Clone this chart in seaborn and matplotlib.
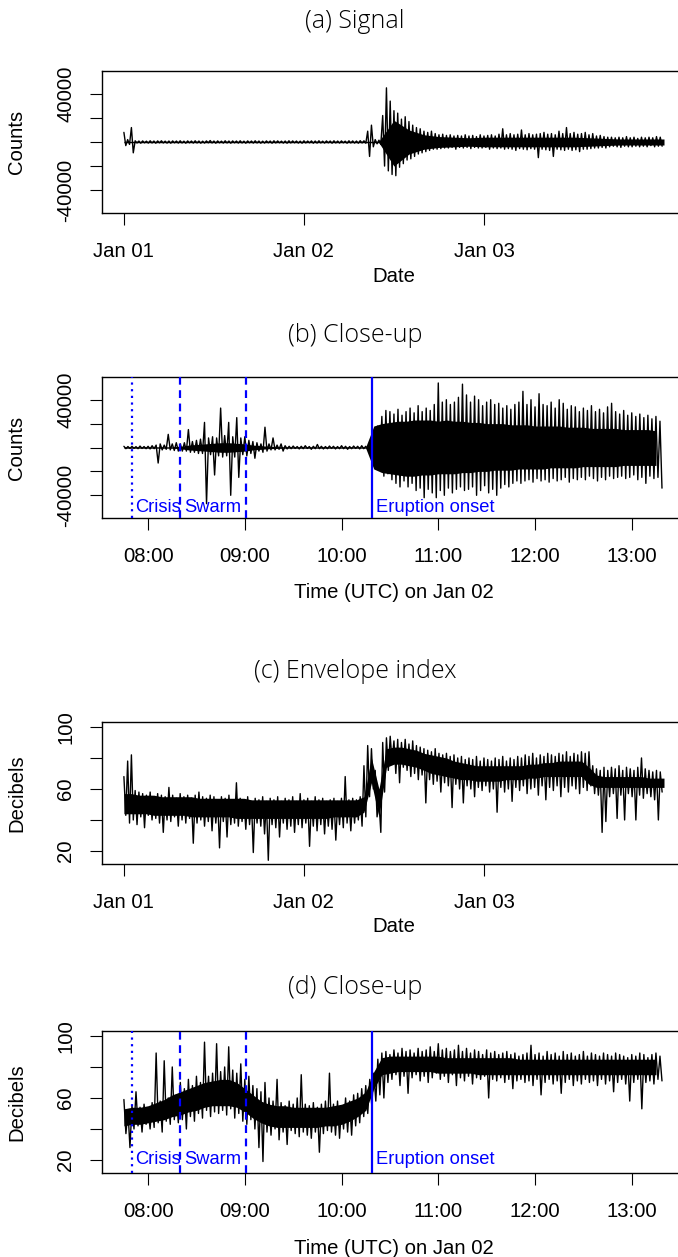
from __future__ import annotations

import matplotlib

matplotlib.use("Agg")
import matplotlib.dates as mdates
import matplotlib.pyplot as plt
import numpy as np
import pandas as pd
import seaborn as sns


# Full record starts Jan 01 00:00, close-ups start Jan 02 07:45
FULL_START = "2000-01-01 00:00"
FULL_STEP = "30min"
CLOSE_START = "2000-01-02 07:45"
CLOSE_STEP = "150s"
CLOSE_CORE_STEP = "5min"

# (a) signal, thousands of counts: upper / lower swing per 30 min
A_HI_K = [
    8, 2, 12,
    1, 0.8, 0.9, 0.7, 1, 0.8, 0.9, 1, 0.7, 0.8,
    0.9, 0.8, 1, 0.7, 0.9, 0.8, 1, 0.8, 0.7, 0.9,
    1.2, 0.8, 0.9, 0.7, 1, 0.8, 0.9, 0.8, 1, 0.7,
    0.9, 0.8, 1, 0.8, 0.7, 0.9, 0.8, 1, 0.9, 0.7,
    0.8, 1, 0.9, 0.8, 0.7, 1, 0.8, 0.9, 0.8, 1,
    0.7, 0.9, 0.8, 1, 0.8, 0.9, 0.7, 1, 0.9, 0.8, 1.1,
    1, 9, 14, 2, 1.5, 22, 45, 34, 26, 24,
    19, 21, 17, 14, 12, 11, 9, 8, 9, 7,
    6, 6.5, 5.5, 6, 5, 5.5, 5, 6, 5, 5.5,
    4.5, 6, 5, 5.5, 6, 5, 6.5, 11, 6, 7,
    6, 6.5, 10, 6, 7, 6, 6.5, 7, 8, 6.5,
    7, 6, 9, 7, 12, 7, 8, 6.5, 7, 8,
    6, 7, 5, 5.5, 4.5, 4, 4, 3.5, 4, 3.5,
    4.5, 3.5, 4, 3, 4, 3.5, 4, 3.5, 4.5, 4,
]
A_LO_K = [
    -3, -2, -9,
    -0.8, -1, -0.7, -0.9, -0.8, -1, -0.7, -0.8, -0.9, -1,
    -0.7, -0.9, -0.8, -1, -0.7, -0.9, -0.8, -1, -0.9, -0.7,
    -0.8, -1, -0.7, -0.9, -0.8, -1, -0.7, -0.9, -0.8, -1,
    -0.7, -0.9, -0.8, -1, -0.9, -0.7, -1, -0.8, -0.7, -0.9,
    -1, -0.8, -0.7, -0.9, -1, -0.8, -0.7, -1, -0.9, -0.8,
    -0.9, -0.7, -1, -0.8, -0.9, -0.7, -1, -0.8, -0.9, -1, -0.8,
    -1, -12, -4, -1.5, -2, -20, -24, -27, -28, -21,
    -18, -15, -14, -12, -10, -9, -8, -7, -6, -6,
    -5.5, -5, -5, -4.5, -6, -4.5, -5, -4.5, -5.5, -4.5,
    -5, -5, -4.5, -6, -5, -5.5, -5, -6, -5.5, -6,
    -7, -5.5, -6, -6.5, -5.5, -6, -13, -6, -6.5, -7,
    -12, -6, -6.5, -7, -6, -7, -6.5, -8, -6, -6,
    -5.5, -5, -5, -4.5, -5, -4, -3.5, -4, -4.5, -3.5,
    -4, -4, -3.5, -4, -3.5, -4, -3, -4, -3.5, -3.5,
]
# dense core of (a) every 2 h, thousands of counts
A_CORE_HI_K = [
    0.6, 0.6, 0.6, 0.6, 0.6, 0.6, 0.6, 0.6, 0.6, 0.6,
    0.6, 0.6, 0.6, 0.6, 0.6, 0.6, 0.6, 0.6, 18, 10,
    6, 4.5, 4, 3.5, 4, 4, 4, 4, 4, 4,
    4, 3.5, 3, 2.5, 2.5, 2.5, 2.5,
]
A_CORE_LO_K = [
    -0.6, -0.6, -0.6, -0.6, -0.6, -0.6, -0.6, -0.6, -0.6, -0.6,
    -0.6, -0.6, -0.6, -0.6, -0.6, -0.6, -0.6, -0.6, -20, -10,
    -6, -4.5, -4, -3.5, -4, -4, -4, -4, -4, -4,
    -4, -3.5, -3, -2.5, -2.5, -2.5, -2.5,
]

# (b) close-up of the signal, thousands of counts per 2.5 min
B_HI_K = [
    1, 0.8, 1, 0.7, 1.2, 0.8, 1, 1.5, 2, 3,
    2, 11, 3, 4, 3, 4, 15, 5, 6, 7,
    21, 8, 9, 8, 33, 10, 21, 9, 25, 8,
    9, 6, 5, 4, 3, 17, 3, 8, 2, 3,
    1.5, 1, 1.2, 0.8, 1, 1.5, 0.8, 1, 2.5, 1,
    0.8, 1.2, 1, 0.8, 1.5, 1, 0.8, 1.2, 1, 1.5,
    1, 2, 4, 18, 26, 31, 30, 28, 32, 27,
    30, 33, 29, 35, 30, 33, 31, 36, 54, 38,
    40, 36, 38, 42, 53, 44, 38, 43, 40, 35,
    38, 40, 36, 37, 33, 35, 32, 36, 38, 47,
    36, 40, 34, 45, 36, 35, 38, 33, 40, 37,
    32, 35, 34, 30, 33, 31, 35, 30, 32, 29,
    34, 37, 30, 28, 31, 27, 29, 26, 28, 25,
    27, 24, 26, 22,
]
B_LO_K = [
    -1, -0.8, -0.7, -1, -0.8, -1, -1.2, -1, -13, -2,
    -1.5, -2, -2.5, -3, -3, -3, -4, -4, -5, -5,
    -47, -6, -23, -7, -8, -7, -40, -8, -25, -6,
    -7, -5, -9, -3, -4, -3, -2, -2, -1.5, -3,
    -1.2, -1, -0.8, -1.2, -1, -0.8, -1.5, -1, -1, -1.2,
    -1, -0.8, -1.2, -1, -1, -1.5, -1, -0.8, -1.2, -1,
    -1.5, -2, -4, -14, -24, -22, -27, -30, -33, -28,
    -33, -30, -36, -34, -42, -35, -38, -42, -36, -40,
    -34, -38, -35, -33, -36, -35, -33, -40, -36, -32,
    -38, -35, -40, -34, -31, -33, -30, -28, -30, -28,
    -27, -29, -26, -28, -27, -29, -26, -28, -27, -25,
    -29, -26, -27, -25, -27, -24, -26, -28, -25, -27,
    -24, -26, -25, -24, -26, -25, -23, -27, -25, -30,
    -24, -26, -25, -34,
]
# dense core of (b) every 5 min, thousands of counts
B_CORE_HI_K = [
    0.6, 0.6, 0.6, 0.6, 0.6, 0.6, 0.6,
    1, 2, 2.5, 3, 3.5, 4, 4, 3.5, 3, 2, 1.5, 1, 0.8,
    0.6, 0.6, 0.6, 0.6, 0.6, 0.6, 0.6, 0.6, 0.6, 0.6, 0.6,
    18, 20, 21, 22, 22, 23, 23, 23, 22, 23, 22, 22, 21, 21, 20, 20, 20, 19,
    19, 19, 18, 18, 18, 18, 17, 17, 17, 16, 16, 16, 16, 15, 15, 15, 15, 14,
]
B_CORE_LO_K = [
    -0.6, -0.6, -0.6, -0.6, -0.6, -0.6, -0.6,
    -1, -2, -2.5, -3, -3.5, -4, -4, -3.5, -3, -2, -1.5, -1, -0.8,
    -0.6, -0.6, -0.6, -0.6, -0.6, -0.6, -0.6, -0.6, -0.6, -0.6, -0.6,
    -18, -21, -22, -23, -24, -24, -23, -23, -22, -22, -22, -21, -21, -20, -20, -19, -19, -19,
    -18, -18, -18, -18, -17, -17, -17, -17, -16, -16, -16, -16, -16, -15, -15, -15, -15, -15,
]

# (c) envelope index, dB per 30 min
C_HI = [
    68, 78, 82, 59, 58, 57, 56, 58, 55, 57,
    56, 55, 61, 56, 54, 57, 55, 56, 54, 56,
    58, 55, 54, 56, 55, 53, 55, 54, 56, 53,
    64, 54, 53, 55, 52, 54, 53, 55, 52, 54,
    53, 55, 52, 54, 53, 55, 52, 57, 53, 54,
    52, 55, 53, 54, 52, 53, 54, 52, 54, 68,
    53, 54, 53, 55, 75, 88, 86, 72, 52, 90,
    93, 94, 91, 92, 90, 92, 89, 91, 88, 87,
    86, 85, 84, 86, 83, 82, 83, 81, 82, 80,
    81, 79, 80, 79, 81, 78, 80, 79, 78, 80,
    79, 81, 78, 80, 79, 81, 80, 82, 81, 83,
    80, 82, 81, 83, 82, 81, 83, 82, 84, 81,
    83, 82, 84, 83, 84, 75, 73, 72, 74, 72,
    74, 73, 75, 72, 74, 73, 72, 74, 80, 73,
    72, 71, 72, 71,
]
C_LO = [
    43, 38, 40, 37, 42, 35, 43, 40, 41, 38,
    32, 40, 39, 42, 36, 40, 38, 41, 25, 38,
    40, 36, 39, 33, 38, 22, 39, 29, 37, 38,
    36, 39, 34, 37, 19, 38, 36, 31, 14, 37,
    35, 29, 38, 34, 36, 32, 37, 35, 38, 23,
    36, 33, 37, 31, 36, 34, 27, 37, 35, 38,
    33, 38, 40, 36, 42, 55, 60, 42, 32, 58,
    72, 78, 70, 64, 74, 72, 68, 70, 66, 69,
    51, 66, 63, 65, 58, 64, 62, 48, 63, 60,
    51, 62, 60, 55, 61, 59, 62, 58, 60, 45,
    61, 58, 60, 52, 61, 59, 62, 57, 60, 61,
    56, 62, 53, 61, 59, 62, 55, 61, 58, 62,
    60, 57, 61, 59, 62, 57, 56, 32, 39, 55,
    57, 41, 56, 40, 57, 55, 40, 56, 54, 57,
    55, 53, 40, 58,
]
# dense core of (c) every hour, dB
C_CORE_HI = [
    57, 57, 56, 56, 56, 55, 55, 55, 55, 55,
    54, 54, 54, 54, 54, 54, 54, 53, 53, 53,
    53, 53, 53, 53, 53, 53, 53, 53, 53, 53,
    53, 53, 55, 80, 60, 86, 87, 87, 86, 85,
    83, 82, 81, 80, 78, 77, 76, 75, 75, 75,
    75, 75, 75, 75, 76, 76, 77, 77, 78, 78,
    78, 78, 74, 69, 68, 68, 68, 68, 68, 68,
    67, 67, 67,
]
C_CORE_LO = [
    44, 44, 44, 44, 43, 43, 43, 43, 43, 42,
    42, 42, 42, 42, 42, 41, 41, 41, 41, 41,
    41, 41, 41, 41, 41, 41, 41, 41, 42, 42,
    42, 42, 45, 64, 42, 74, 76, 76, 75, 74,
    72, 70, 69, 68, 67, 66, 66, 65, 65, 65,
    65, 66, 66, 66, 67, 67, 68, 68, 68, 68,
    68, 68, 63, 61, 61, 61, 61, 61, 61, 61,
    61, 61, 61,
]

# (d) close-up of the envelope index, dB per 2.5 min
D_HI = [
    59, 52, 55, 64, 54, 56, 53, 57, 89, 58,
    84, 60, 80, 62, 70, 66, 72, 68, 74, 70,
    96, 74, 76, 95, 77, 80, 93, 78, 76, 82,
    72, 74, 68, 66, 64, 70, 60, 58, 72, 57,
    55, 58, 56, 60, 75, 56, 55, 57, 54, 56,
    58, 76, 56, 58, 55, 60, 58, 62, 63, 66,
    68, 72, 76, 85, 89, 90, 88, 91, 89, 92,
    90, 91, 89, 92, 90, 91, 93, 90, 95, 91,
    92, 90, 91, 94, 90, 92, 89, 91, 90, 88,
    91, 89, 90, 88, 89, 90, 88, 89, 87, 88,
    89, 94, 88, 89, 87, 90, 88, 89, 87, 90,
    88, 89, 87, 88, 90, 87, 89, 88, 87, 89,
    88, 87, 89, 88, 87, 86, 88, 87, 89, 88,
    86, 88, 89, 87,
]
D_LO = [
    37, 28, 40, 42, 38, 43, 40, 41, 44, 38,
    45, 43, 46, 44, 46, 40, 48, 45, 50, 47,
    52, 48, 51, 50, 52, 49, 53, 47, 50, 45,
    43, 46, 40, 28, 19, 38, 36, 40, 33, 38,
    30, 39, 37, 35, 38, 36, 34, 38, 25, 37,
    39, 38, 36, 34, 40, 38, 36, 42, 44, 48,
    50, 55, 58, 62, 60, 70, 72, 75, 68, 74,
    63, 73, 75, 71, 74, 70, 73, 76, 72, 74,
    70, 75, 68, 73, 71, 74, 69, 73, 72, 74,
    60, 72, 71, 73, 70, 72, 66, 71, 72, 70,
    71, 68, 72, 62, 70, 72, 69, 71, 63, 70,
    72, 68, 71, 69, 72, 70, 71, 68, 72, 69,
    71, 64, 70, 72, 69, 58, 70, 72, 53, 70,
    71, 69, 72, 71,
]
# dense core of (d) every 5 min, dB
D_CORE_HI = [
    53, 54, 54, 55, 57, 59, 62, 64, 66, 68, 70, 71, 72, 72, 70, 66,
    62, 58, 56, 55, 55, 54, 54, 54, 54, 54, 55, 56, 58, 60, 64,
    77, 86, 87, 87, 87, 87, 87, 87, 87, 86, 86, 86, 86, 86, 86, 86, 86, 86,
    85, 85, 85, 85, 85, 85, 85, 85, 85, 85, 85, 85, 85, 85, 85, 85, 85, 85,
]
D_CORE_LO = [
    42, 43, 43, 44, 45, 46, 48, 49, 51, 52, 54, 55, 55, 55, 54, 51,
    47, 44, 42, 41, 41, 41, 41, 41, 41, 42, 42, 43, 45, 48, 52,
    66, 75, 76, 77, 77, 77, 77, 77, 76, 76, 76, 76, 76, 75, 75, 75, 75, 75,
    75, 75, 75, 75, 75, 75, 75, 75, 75, 75, 75, 75, 75, 75, 75, 75, 75, 75,
]

COUNT_TICKS = [-40000, -20000, 0, 20000, 40000]
COUNT_TICK_LABELS = ["-40000", "", "", "", "40000"]
DB_TICKS = [20, 40, 60, 80, 100]
DB_TICK_LABELS = ["20", "", "60", "", "100"]
DAY_TICKS = ["2000-01-01", "2000-01-02", "2000-01-03"]

EVENT_TIMES = ["2000-01-02 07:50", "2000-01-02 08:20", "2000-01-02 09:01", "2000-01-02 10:19"]
EVENT_LABELS = ["Crisis", "Swarm", "", "Eruption onset"]

TITLES = ["(a) Signal", "(b) Close-up", "(c) Envelope index", "(d) Close-up"]

W, H = 678, 1257
# axes boxes in pixels: top, bottom (the right edge runs past the image)
BOXES = [(71, 213), (377, 518), (722, 864), (1031, 1173)]
LEFT, RIGHT = 102.3, 685.6
TITLE_Y = [21, 335, 672, 987]
XLABEL_Y = [277, 593, 927, 1248]


def zigzag(start: str, step: str, hi, lo, scale: float = 1.0) -> pd.DataFrame:
    t = pd.date_range(start, periods=len(hi), freq=step)
    half = pd.Timedelta(step) / 2
    times = pd.to_datetime(np.column_stack([t.values, (t + half).values]).ravel())
    values = np.column_stack([hi, lo]).ravel() * scale
    return pd.DataFrame({"time": times, "value": values})


def core(start: str, step: str, hi, lo, scale: float = 1.0) -> pd.DataFrame:
    t = pd.date_range(start, periods=len(hi), freq=step)
    return pd.DataFrame(
        {"time": t, "hi": np.asarray(hi, float) * scale, "lo": np.asarray(lo, float) * scale}
    )


def style() -> None:
    sns.set_theme(style="ticks")
    plt.rcParams.update(
        {
            "font.family": ["Liberation Sans", "DejaVu Sans"],
            "axes.linewidth": 1.0,
            "axes.edgecolor": "black",
            "axes.labelcolor": "black",
            "text.color": "black",
            "xtick.color": "black",
            "ytick.color": "black",
        }
    )


def frame(ax, box) -> None:
    top, bottom = box
    ax.set_position([LEFT / W, 1 - bottom / H, (RIGHT - LEFT) / W, (bottom - top) / H])
    for side in ["top", "right", "left", "bottom"]:
        ax.spines[side].set_visible(True)
        ax.spines[side].set_linewidth(1.0)
    ax.tick_params(axis="both", direction="out", length=8.6, width=0.8, labelsize=14.6)
    ax.tick_params(axis="x", pad=12.5)
    ax.tick_params(axis="y", pad=11)


def signal_panel(ax, line, band, box, ylabel, yticks, yticklabels, ylim, xlabel, xlabel_y) -> None:
    ax.fill_between(band["time"], band["lo"], band["hi"], color="black", linewidth=0)
    sns.lineplot(
        data=line, x="time", y="value", ax=ax, color="black",
        linewidth=1.0, estimator=None, sort=False, legend=False,
    )
    frame(ax, box)
    ax.set_ylim(*ylim)
    ax.set_yticks(yticks)
    ax.set_yticklabels(yticklabels, rotation=90, va="center")
    ax.set_xlabel(xlabel, fontsize=14.6)
    ax.set_ylabel(ylabel, fontsize=14.6)
    top, bottom = box
    ax.xaxis.set_label_coords(0.5, (bottom - xlabel_y) / (bottom - top))
    ax.xaxis.label.set_va("center")
    ax.yaxis.set_label_coords((17 - LEFT) / (RIGHT - LEFT), 0.5)
    ax.yaxis.label.set_va("center")


def full_axis(ax) -> None:
    start = pd.Timestamp(FULL_START)
    ax.set_xlim(start - pd.Timedelta(hours=2.88), start + pd.Timedelta(hours=74.88))
    ax.set_xticks(pd.to_datetime(DAY_TICKS))
    ax.xaxis.set_major_formatter(mdates.DateFormatter("%b %d"))


def close_axis(ax, label_y) -> None:
    start = pd.Timestamp(CLOSE_START)
    ax.set_xlim(start - pd.Timedelta(minutes=13.4), start + pd.Timedelta(minutes=348.4))
    ax.xaxis.set_major_locator(mdates.HourLocator())
    ax.xaxis.set_major_formatter(mdates.DateFormatter("%H:%M"))
    styles = [(0, (1, 2)), (0, (3.5, 2.5)), (0, (3.5, 2.5)), "-"]
    for when, ls, text in zip(EVENT_TIMES, styles, EVENT_LABELS):
        t = pd.Timestamp(when)
        ax.axvline(t, color="#0000ff", linewidth=1.6, linestyle=ls, zorder=3)
        if text:
            ax.annotate(
                text, xy=(t, label_y), xytext=(2.5, 0), textcoords="offset points",
                ha="left", va="center", color="#0000ff", fontsize=13.2,
            )


def main() -> None:
    style()
    fig, axes = plt.subplots(4, 1, figsize=(W / 100, H / 100), dpi=100)

    a = zigzag(FULL_START, FULL_STEP, A_HI_K, A_LO_K, 1000)
    a_core = core(FULL_START, "2h", A_CORE_HI_K, A_CORE_LO_K, 1000)
    b = zigzag(CLOSE_START, CLOSE_STEP, B_HI_K, B_LO_K, 1000)
    b_core = core(CLOSE_START, CLOSE_CORE_STEP, B_CORE_HI_K, B_CORE_LO_K, 1000)
    c = zigzag(FULL_START, FULL_STEP, C_HI, C_LO)
    c_core = core(FULL_START, "1h", C_CORE_HI, C_CORE_LO)
    d = zigzag(CLOSE_START, CLOSE_STEP, D_HI, D_LO)
    d_core = core(CLOSE_START, CLOSE_CORE_STEP, D_CORE_HI, D_CORE_LO)

    count_lim = (-59000, 59000)
    db_lim = (11.6, 103.2)
    signal_panel(axes[0], a, a_core, BOXES[0], "Counts", COUNT_TICKS, COUNT_TICK_LABELS,
                 count_lim, "Date", XLABEL_Y[0])
    full_axis(axes[0])
    signal_panel(axes[1], b, b_core, BOXES[1], "Counts", COUNT_TICKS, COUNT_TICK_LABELS,
                 count_lim, "Time (UTC) on Jan 02", XLABEL_Y[1])
    close_axis(axes[1], -50000)
    signal_panel(axes[2], c, c_core, BOXES[2], "Decibels", DB_TICKS, DB_TICK_LABELS,
                 db_lim, "Date", XLABEL_Y[2])
    full_axis(axes[2])
    signal_panel(axes[3], d, d_core, BOXES[3], "Decibels", DB_TICKS, DB_TICK_LABELS,
                 db_lim, "Time (UTC) on Jan 02", XLABEL_Y[3])
    close_axis(axes[3], 20)

    for title, y in zip(TITLES, TITLE_Y):
        fig.text(355 / W, 1 - y / H, title, ha="center", va="center",
                 fontsize=18, fontweight="light", family=["Open Sans", "DejaVu Sans"])

    fig.savefig("out.png", dpi=100)
    plt.close(fig)


if __name__ == "__main__":
    main()
